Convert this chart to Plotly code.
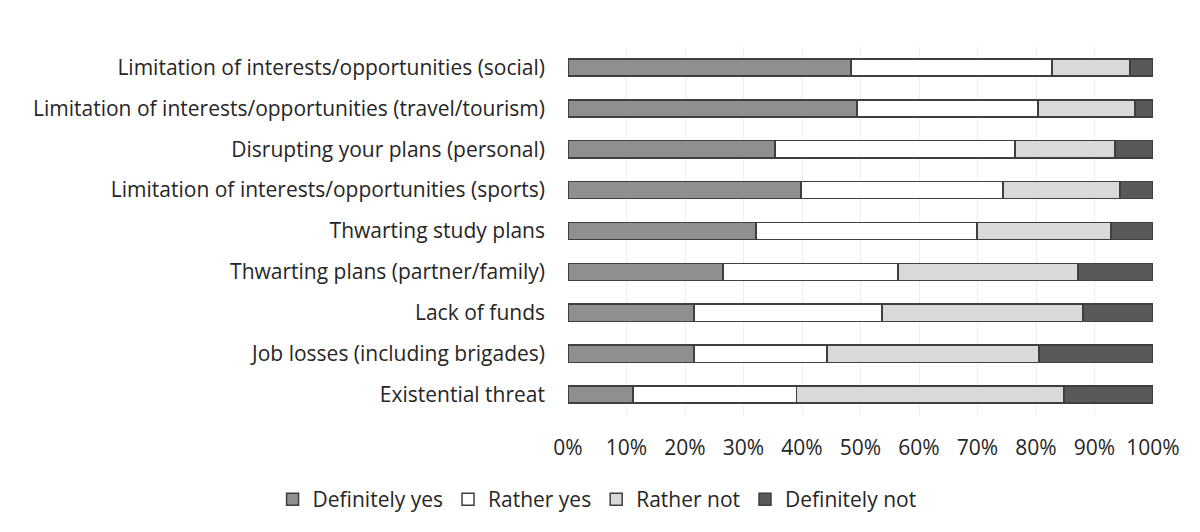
import plotly.graph_objects as go

categories = [
    "Limitation of interests/opportunities (social)",
    "Limitation of interests/opportunities (travel/tourism)",
    "Disrupting your plans (personal)",
    "Limitation of interests/opportunities (sports)",
    "Thwarting study plans",
    "Thwarting plans (partner/family)",
    "Lack of funds",
    "Job losses (including brigades)",
    "Existential threat",
]
definitely_yes = [48.4, 49.4, 35.4, 39.8, 32.1, 26.5, 21.5, 21.5, 11.1]
rather_yes = [34.3, 30.9, 41.0, 34.6, 37.8, 29.9, 32.2, 22.8, 28.0]
rather_not = [13.4, 16.6, 17.1, 20.0, 22.9, 30.8, 34.3, 36.2, 45.7]
definitely_not = [3.9, 3.1, 6.5, 5.6, 7.2, 12.8, 12.0, 19.5, 15.2]

series = [
    ("Definitely yes", definitely_yes, "#8f8f8f"),
    ("Rather yes", rather_yes, "#ffffff"),
    ("Rather not", rather_not, "#d9d9d9"),
    ("Definitely not", definitely_not, "#595959"),
]

font_family = "'Open Sans', sans-serif"

fig = go.Figure()
for name, vals, color in series:
    fig.add_trace(go.Bar(
        y=categories,
        x=vals,
        name=name,
        orientation="h",
        marker=dict(color=color, line=dict(color="#3f3f3f", width=1.5)),
        hoverinfo="x+y+name",
    ))

fig.update_layout(
    barmode="stack",
    bargap=0.58,
    width=1200,
    height=532,
    margin=dict(l=568, r=47, t=47, b=117, autoexpand=False),
    paper_bgcolor="white",
    plot_bgcolor="white",
    font=dict(family=font_family, size=21, color="#262626"),
    legend=dict(
        orientation="h",
        xref="paper", x=-0.505, xanchor="left",
        yref="paper", y=-0.23, yanchor="middle",
        font=dict(size=21, color="#262626"),
        itemwidth=30,
        traceorder="normal",
    ),
    xaxis=dict(
        range=[0, 100],
        tickvals=list(range(0, 101, 10)),
        ticktext=[f"{v}%" for v in range(0, 101, 10)],
        showgrid=True,
        gridcolor="#efefef",
        gridwidth=1,
        zeroline=False,
        showline=False,
        ticklabelstandoff=18,
        fixedrange=True,
    ),
    yaxis=dict(
        autorange="reversed",
        showgrid=False,
        showline=False,
        ticklabelstandoff=22,
        fixedrange=True,
    ),
)

fig.write_html("out.html")
